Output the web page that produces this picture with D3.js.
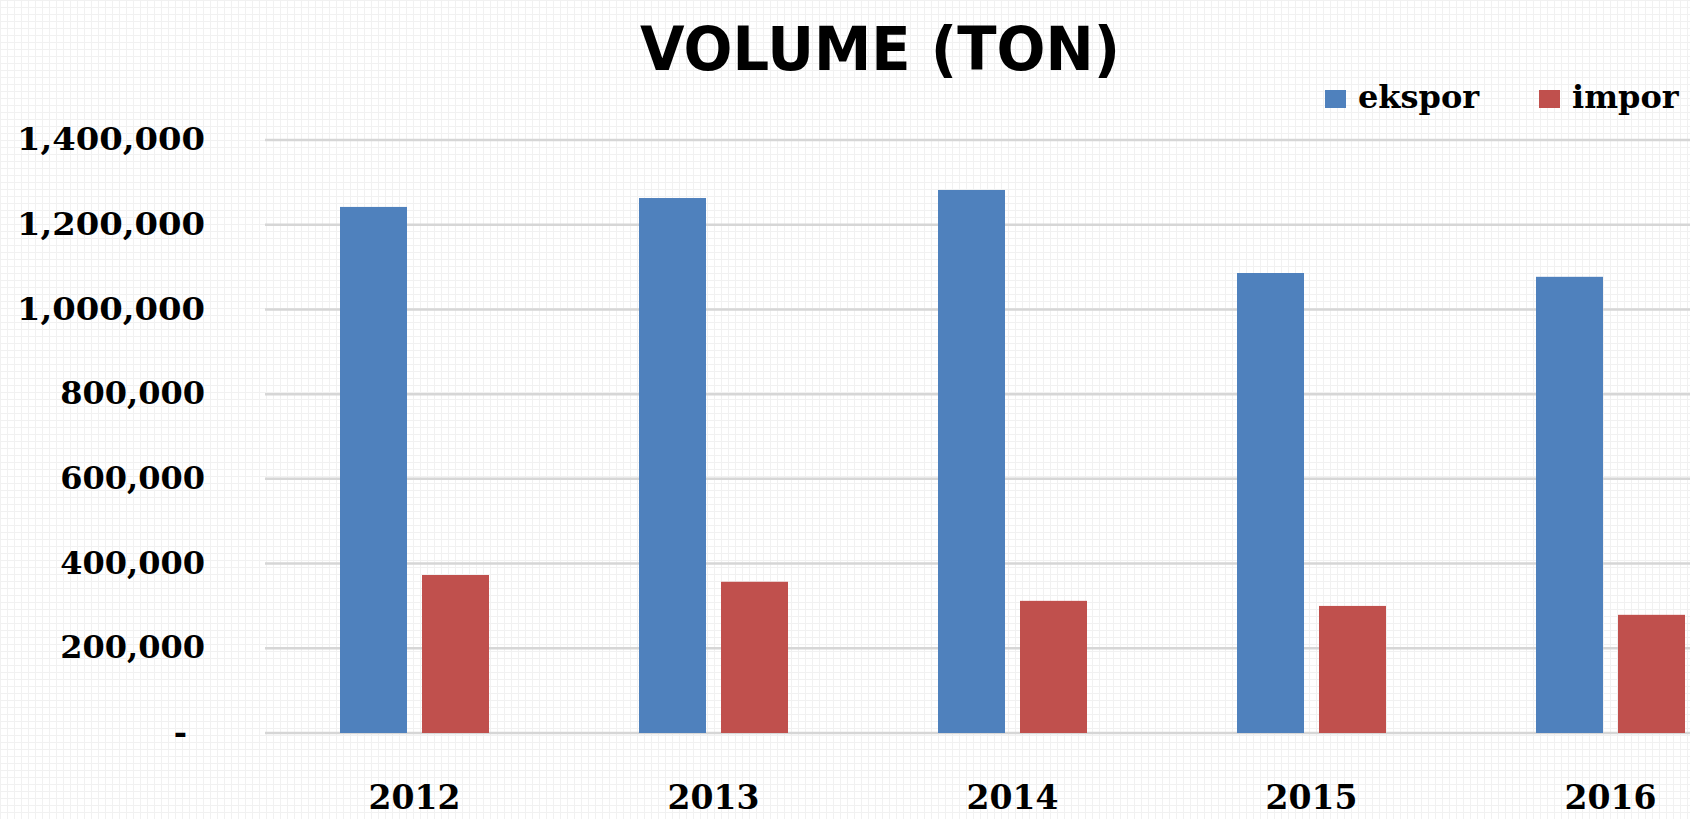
<!DOCTYPE html>
<html>
<head>
<meta charset="utf-8">
<script src="https://cdn.jsdelivr.net/npm/d3@7/dist/d3.min.js"></script>
<style>
  html, body { margin: 0; padding: 0; background: #ffffff; overflow: hidden; }
  svg { display: block; }
</style>
</head>
<body>
<svg id="chart" width="1690" height="819"></svg>
<script>
// ---- data ----
const years = ["2012", "2013", "2014", "2015", "2016"];
const seriesNames = ["ekspor", "impor"];
const ekspor = [1242000, 1263000, 1282000, 1086000, 1077000];
const impor = [373000, 357000, 312000, 300000, 279000];
const yTicks = [0, 200000, 400000, 600000, 800000, 1000000, 1200000, 1400000];
const titleText = "VOLUME (TON)";

const colors = { ekspor: "#4F81BD", impor: "#C0504D" };
const values = { ekspor, impor };

const svg = d3.select("#chart");
const W = 1690, H = 819;

// faint paper texture
const defs = svg.append("defs");
const pat = defs.append("pattern").attr("id", "paper").attr("width", 7).attr("height", 7)
  .attr("patternUnits", "userSpaceOnUse");
pat.append("rect").attr("width", 7).attr("height", 7).attr("fill", "#ffffff");
pat.append("path").attr("d", "M0,0.5H7M0.5,0V7").attr("stroke", "#f1f1f1").attr("stroke-width", 1);
svg.append("rect").attr("width", W).attr("height", H).attr("fill", "url(#paper)");

const plotLeft = 265, plotBottom = 733, plotTop = 140;

const y = d3.scaleLinear().domain([0, 1400000]).range([plotBottom, plotTop]);
const x0 = d3.scaleBand().domain(years).range([plotLeft, plotLeft + 5 * 299])
  .paddingInner(150 / 299).paddingOuter(75 / 299);
const x1 = d3.scaleBand().domain(seriesNames).range([0, x0.bandwidth()]).paddingInner(0.183);

// gridlines
svg.append("g").selectAll("line").data(yTicks).join("line")
  .attr("x1", plotLeft).attr("x2", W)
  .attr("y1", d => y(d)).attr("y2", d => y(d))
  .attr("stroke", "#d6d6d6").attr("stroke-width", 2.5);

// y axis labels
const yAxis = d3.axisLeft(y).tickValues(yTicks).tickSize(0).tickPadding(0)
  .tickFormat(d => d === 0 ? "-" : d3.format(",")(d));
const gy = svg.append("g").attr("transform", "translate(205,0)").call(yAxis);
gy.select(".domain").remove();
gy.selectAll("text")
  .attr("font-family", "'DejaVu Serif', serif").attr("font-weight", "bold")
  .attr("font-size", 32).attr("fill", "#000").attr("dy", "0.3em")
  .attr("dx", d => d === 0 ? -18 : 0)
  .each(function (d) {
    if (d >= 1000000) d3.select(this).attr("textLength", 188).attr("lengthAdjust", "spacingAndGlyphs");
  });

// bars
const groups = svg.append("g").selectAll("g").data(years).join("g")
  .attr("transform", d => `translate(${x0(d)},0)`);
groups.selectAll("rect")
  .data((d, i) => seriesNames.map(s => ({ s, v: values[s][i] })))
  .join("rect")
  .attr("x", d => x1(d.s))
  .attr("width", x1.bandwidth())
  .attr("y", d => y(d.v))
  .attr("height", d => y(0) - y(d.v))
  .attr("fill", d => colors[d.s]);

// x axis labels
const xAxis = d3.axisBottom(x0).tickSize(0).tickPadding(0);
const gx = svg.append("g").attr("transform", "translate(0,809)").call(xAxis);
gx.select(".domain").remove();
gx.selectAll("text")
  .attr("font-family", "'DejaVu Serif', serif").attr("font-weight", "bold")
  .attr("font-size", 33).attr("fill", "#000").attr("dy", "0");

// title
svg.append("text").attr("x", 880).attr("y", 70).attr("text-anchor", "middle")
  .attr("font-family", "'DejaVu Sans', sans-serif").attr("font-weight", "bold")
  .attr("font-size", 60).attr("fill", "#000")
  .attr("textLength", 480).attr("lengthAdjust", "spacingAndGlyphs")
  .text(titleText);

// legend
const legendPos = { ekspor: 1325, impor: 1539 };
const lg = svg.append("g").selectAll("g").data(seriesNames).join("g")
  .attr("transform", d => `translate(${legendPos[d]},0)`);
lg.append("rect").attr("x", 0).attr("y", 90).attr("width", 21).attr("height", 18)
  .attr("fill", d => colors[d]);
lg.append("text").attr("x", 33).attr("y", 108)
  .attr("font-family", "'DejaVu Serif', serif").attr("font-weight", "bold")
  .attr("font-size", 32).attr("fill", "#000")
  .text(d => d);
</script>
</body>
</html>
